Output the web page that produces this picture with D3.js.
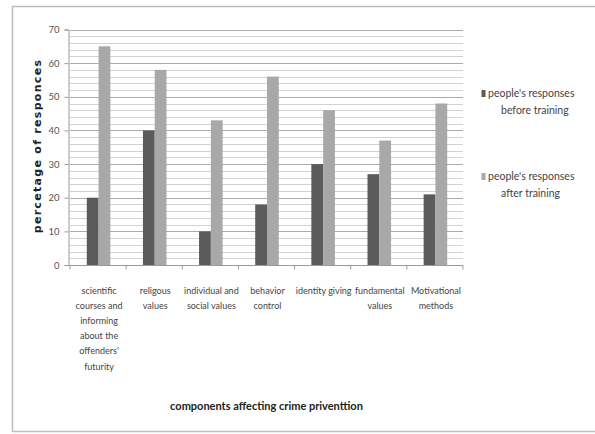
<!DOCTYPE html>
<html>
<head>
<meta charset="utf-8">
<script src="https://cdn.jsdelivr.net/npm/d3@7"></script>
<style>
  html, body { margin: 0; padding: 0; background: #fff; }
  svg { display: block; }
</style>
</head>
<body>
<svg id="chart" width="595" height="434"></svg>
<script>
// Components affecting crime prevention: responses before / after training (%)
const categories = [
  ["scientific", "courses and", "informing", "about the", "offenders'", "futurity"],
  ["religous", "values"],
  ["individual and", "social values"],
  ["behavior", "control"],
  ["identity giving"],
  ["fundamental", "values"],
  ["Motivational", "methods"]
];
const beforeTraining = [20, 40, 10, 18, 30, 27, 21];
const afterTraining  = [65, 58, 43, 56, 46, 37, 48];
const seriesNames = [
  ["people's responses", "before training"],
  ["people's responses", "after training"]
];
const yTicks = [0, 10, 20, 30, 40, 50, 60, 70];

const svg = d3.select("#chart");
const labelFont = "Lato, 'Open Sans', sans-serif";

// outer chart frame
svg.append("rect")
  .attr("x", 12.5).attr("y", 6.5)
  .attr("width", 600).attr("height", 425)
  .attr("fill", "none").attr("stroke", "#bdbdbd").attr("stroke-width", 1.5);

const plot = { left: 70, right: 463, top: 29.5, bottom: 265 };

const x = d3.scaleBand()
  .domain(d3.range(categories.length))
  .range([plot.left, plot.right]);

const y = d3.scaleLinear().domain([0, 70]).range([plot.bottom, plot.top]);

// minor gridlines every 2 units, major every 10
const g = svg.append("g");
g.selectAll("line.minor")
  .data(d3.range(2, 71, 2).filter(v => v % 10 !== 0))
  .join("line")
  .attr("x1", plot.left).attr("x2", plot.right)
  .attr("y1", d => Math.round(y(d)) + 0.5).attr("y2", d => Math.round(y(d)) + 0.5)
  .attr("stroke", "#d2d2d2").attr("stroke-width", 1);
g.selectAll("line.major")
  .data(yTicks.filter(v => v > 0))
  .join("line")
  .attr("x1", plot.left).attr("x2", plot.right)
  .attr("y1", d => Math.round(y(d)) + 0.5).attr("y2", d => Math.round(y(d)) + 0.5)
  .attr("stroke", "#ababab").attr("stroke-width", 1.2);

// bars
const barW = x.bandwidth() * 0.21;
const series = [
  { values: beforeTraining, color: "#5b5b5b", offset: -barW },
  { values: afterTraining,  color: "#a8a8a8", offset: 0 }
];
series.forEach(s => {
  svg.append("g").selectAll("rect")
    .data(s.values)
    .join("rect")
    .attr("x", (d, i) => x(i) + x.bandwidth() / 2 + s.offset + 0.5)
    .attr("y", d => y(d))
    .attr("width", barW)
    .attr("height", d => y(0) - y(d))
    .attr("fill", s.color);
});

// y axis
const yAxis = d3.axisLeft(y).tickValues(yTicks).tickSize(4).tickPadding(5);
const yg = svg.append("g").attr("transform", `translate(${plot.left - 1.5},0)`).call(yAxis);
yg.select(".domain").attr("stroke", "#9a9a9a");
yg.selectAll(".tick line").attr("stroke", "#9a9a9a");
yg.selectAll(".tick text")
  .attr("fill", "#555").style("font-family", labelFont).style("font-size", "9.5px");

// x axis with ticks at category boundaries
const xg = svg.append("g").attr("transform", `translate(0,${plot.bottom + 0.5})`);
xg.append("line")
  .attr("x1", plot.left - 1.5).attr("x2", plot.right)
  .attr("stroke", "#9a9a9a");
xg.selectAll("line.tk")
  .data(d3.range(categories.length + 1))
  .join("line")
  .attr("x1", i => i < categories.length ? x(i) : plot.right)
  .attr("x2", i => i < categories.length ? x(i) : plot.right)
  .attr("y1", 0).attr("y2", 4)
  .attr("stroke", "#9a9a9a");

// category labels
const catG = svg.append("g");
categories.forEach((lines, i) => {
  const t = catG.append("text")
    .attr("x", x(i) + x.bandwidth() / 2 + 1)
    .attr("y", 294)
    .attr("text-anchor", "middle")
    .attr("fill", "#444")
    .style("font-family", labelFont)
    .style("font-size", "9px");
  lines.forEach((ln, k) => {
    t.append("tspan")
      .attr("x", x(i) + x.bandwidth() / 2 + 1)
      .attr("dy", k === 0 ? 0 : 15.1)
      .text(ln);
  });
});

// axis titles
svg.append("text")
  .attr("transform", `translate(41,146) rotate(-90)`)
  .attr("text-anchor", "middle")
  .attr("fill", "#222")
  .style("font-family", "'DejaVu Sans', sans-serif")
  .style("font-weight", "bold")
  .style("font-size", "11px")
  .style("letter-spacing", "1.3px")
  .text("percetage  of responces");

svg.append("text")
  .attr("x", (plot.left + plot.right) / 2)
  .attr("y", 410)
  .attr("text-anchor", "middle")
  .attr("fill", "#222")
  .style("font-family", labelFont)
  .style("font-weight", "bold")
  .style("font-size", "11px")
  .text("components affecting crime priventtion");

// legend
const legendY = [97, 180];
series.forEach((s, i) => {
  const lg = svg.append("g");
  lg.append("rect")
    .attr("x", 481.5).attr("y", legendY[i] - 7)
    .attr("width", 4).attr("height", 7)
    .attr("fill", s.color);
  const t = lg.append("text")
    .attr("y", legendY[i])
    .attr("fill", "#444")
    .style("font-family", labelFont)
    .style("font-size", "10.5px");
  t.append("tspan").attr("x", 488).text(seriesNames[i][0]);
  t.append("tspan").attr("x", 501).attr("dy", 16.5).text(seriesNames[i][1]);
});
</script>
</body>
</html>
